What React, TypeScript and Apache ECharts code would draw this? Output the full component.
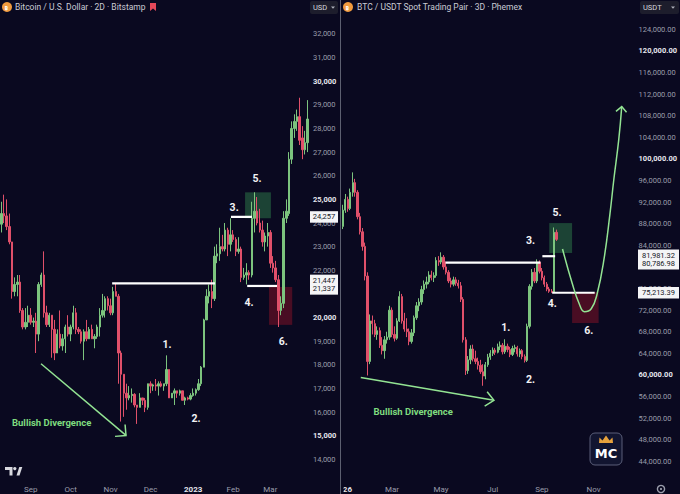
import React, { useEffect, useRef } from "react";
import * as echarts from "echarts";

// ---------- DATA ----------
const leftStartDate = "2022-08-11"; // 2D candles
const leftStepDays = 2;
const rightStartDate = "2026-01-01"; // 3D candles
const rightStepDays = 3;
const rightSlots = 118;

// [open, close, low, high] in thousands of USD — Bitcoin / U.S. Dollar 2D Bitstamp
const leftOHLC: number[][] = [
  [23.95, 24.4, 23.6, 24.9], [24.4, 24.3, 24.0, 25.2], [24.3, 23.85, 23.7, 25.0], [23.85, 23.2, 23.1, 24.4],
  [23.2, 21.1, 20.8, 23.2], [21.1, 21.4, 20.9, 21.7], [21.4, 21.5, 20.9, 21.8], [21.5, 20.3, 20.2, 21.8],
  [20.3, 19.6, 19.5, 20.4], [19.6, 19.8, 19.5, 20.4], [19.8, 20.1, 19.6, 20.5], [20.1, 19.8, 19.7, 20.4],
  [19.8, 19.85, 19.6, 20.0], [19.85, 19.3, 18.5, 20.2], [19.3, 21.4, 19.0, 21.5], [21.4, 21.8, 21.3, 21.9],
  [21.8, 20.2, 20.0, 22.8], [20.2, 19.7, 19.6, 20.5], [19.7, 20.1, 19.6, 20.2], [20.1, 19.5, 18.3, 20.1],
  [19.5, 18.5, 18.2, 19.9], [18.5, 19.3, 18.5, 19.5], [19.3, 18.8, 18.7, 20.3], [18.8, 19.1, 18.6, 19.3],
  [19.1, 19.6, 18.5, 19.7], [19.6, 19.3, 19.2, 20.1], [19.3, 19.6, 19.0, 19.7], [19.6, 20.2, 19.5, 20.5],
  [20.2, 19.5, 19.3, 20.4], [19.5, 19.4, 19.3, 19.6], [19.4, 19.0, 18.9, 19.5], [19.0, 19.4, 18.2, 19.5],
  [19.4, 19.1, 19.0, 19.9], [19.1, 19.5, 19.1, 19.6], [19.5, 19.1, 19.1, 19.7], [19.1, 19.2, 18.7, 19.3],
  [19.2, 19.6, 19.1, 19.7], [19.6, 20.1, 19.2, 20.4], [20.1, 20.3, 20.0, 21.0], [20.3, 20.8, 20.0, 20.9],
  [20.8, 20.5, 20.3, 20.9], [20.5, 20.2, 20.1, 20.8], [20.2, 21.1, 20.1, 21.3], [21.1, 20.9, 20.9, 21.45],
  [20.9, 18.5, 17.2, 21.0], [18.5, 17.6, 15.6, 18.6], [17.6, 16.8, 15.8, 17.6], [16.8, 16.6, 16.1, 17.2],
  [16.6, 16.7, 16.5, 17.1], [16.7, 16.75, 16.4, 17.0], [16.75, 16.3, 16.2, 16.8], [16.3, 16.2, 15.5, 16.3],
  [16.2, 16.6, 16.2, 16.8], [16.6, 16.5, 16.3, 16.6], [16.5, 16.2, 16.0, 16.6], [16.2, 17.2, 16.1, 17.2],
  [17.2, 17.1, 16.8, 17.3], [17.1, 17.15, 16.9, 17.2], [17.15, 17.1, 16.9, 17.4], [17.1, 17.2, 16.7, 17.3],
  [17.2, 17.1, 17.05, 17.3], [17.1, 17.2, 16.9, 17.2], [17.2, 17.8, 17.1, 18.4], [17.8, 16.6, 16.6, 17.8],
  [16.6, 16.8, 16.6, 16.8], [16.8, 16.9, 16.3, 17.0], [16.9, 16.8, 16.6, 16.9], [16.8, 16.9, 16.7, 16.95],
  [16.9, 16.5, 16.5, 16.9], [16.5, 16.6, 16.3, 16.65], [16.6, 16.55, 16.5, 16.65], [16.55, 16.7, 16.5, 16.8],
  [16.7, 16.8, 16.65, 17.0], [16.8, 16.95, 16.7, 17.0], [16.95, 17.2, 16.9, 17.4], [17.2, 17.9, 17.1, 17.95],
  [17.9, 19.9, 17.9, 19.95], [19.9, 20.9, 19.9, 21.2], [20.9, 21.1, 20.6, 21.4], [21.1, 20.8, 20.4, 21.6],
  [20.8, 22.6, 20.7, 23.0], [22.6, 22.7, 22.3, 23.1], [22.7, 23.0, 22.4, 23.8], [23.0, 22.9, 22.8, 23.5],
  [22.9, 23.7, 22.8, 24.0], [23.7, 23.1, 22.6, 23.8], [23.1, 23.5, 22.8, 24.2], [23.5, 23.3, 23.2, 23.7],
  [23.3, 22.8, 22.6, 23.4], [22.8, 22.9, 22.7, 23.4], [22.9, 21.7, 21.5, 23.0], [21.7, 21.8, 21.6, 22.1],
  [21.8, 21.9, 21.4, 22.3], [21.9, 21.8, 21.6, 22.0], [21.8, 24.2, 21.7, 24.9], [24.2, 24.5, 23.6, 25.3],
  [24.5, 24.0, 23.9, 25.1], [24.0, 23.7, 23.6, 24.6], [23.7, 23.2, 23.0, 24.1], [23.2, 23.45, 22.8, 23.6],
  [23.45, 23.6, 23.0, 24.0], [23.6, 22.3, 22.1, 23.7], [22.3, 22.1, 21.9, 22.6], [22.1, 21.6, 21.5, 22.4],
  [21.6, 20.3, 19.6, 21.8], [20.3, 20.6, 20.1, 20.9], [20.6, 24.2, 20.4, 24.5], [24.2, 24.5, 24.0, 25.0],
  [24.4, 26.7, 24.3, 27.0], [26.7, 28.0, 26.5, 28.3], [28.0, 28.3, 27.6, 28.6], [28.3, 28.5, 27.9, 28.8],
  [28.5, 27.5, 27.3, 29.3], [27.6, 27.1, 26.7, 28.1], [27.1, 27.4, 26.9, 27.9], [27.4, 28.4, 27.0, 29.2],
];

// [open, close, low, high] in thousands of USDT — BTC / USDT 3D Phemex
const rightOHLC: number[][] = [
  [87.5, 90.5, 87.0, 91.5], [90.5, 92.5, 90.0, 93.5], [92.5, 90.8, 90.2, 93.0], [90.8, 93.8, 90.5, 94.5],
  [93.8, 95.6, 93.0, 97.5], [95.6, 93.8, 93.0, 96.3], [93.8, 89.3, 88.8, 94.2], [89.3, 86.5, 86.0, 90.0],
  [86.5, 83.8, 83.0, 87.2], [83.8, 78.3, 77.5, 84.5], [78.3, 62.5, 59.9, 79.0], [62.5, 70.0, 62.0, 71.2],
  [70.0, 69.5, 67.5, 71.0], [69.5, 67.5, 67.0, 70.2], [67.5, 68.2, 66.5, 69.0], [68.2, 65.5, 65.0, 68.8],
  [65.5, 64.5, 63.8, 67.0], [64.5, 66.5, 63.0, 67.2], [66.5, 67.0, 65.8, 68.0], [67.0, 72.0, 66.5, 72.8],
  [72.0, 67.5, 67.0, 72.5], [67.5, 66.8, 66.2, 69.0], [66.8, 70.0, 66.5, 70.5], [70.0, 74.5, 69.8, 75.5],
  [74.5, 70.0, 69.5, 75.0], [70.0, 68.5, 68.0, 71.5], [68.5, 68.0, 67.0, 70.5], [68.0, 66.2, 65.5, 68.6],
  [66.2, 67.8, 65.8, 68.5], [67.8, 70.6, 67.2, 71.0], [70.6, 72.8, 70.2, 73.5], [72.8, 73.5, 71.8, 74.2],
  [73.5, 75.8, 73.0, 76.5], [75.8, 76.8, 75.0, 77.5], [76.8, 77.2, 76.0, 78.2], [77.2, 78.5, 76.8, 79.2],
  [78.5, 78.0, 77.5, 79.3], [78.0, 78.4, 77.2, 79.0], [78.4, 81.2, 78.0, 81.8], [81.2, 80.9, 80.2, 82.0],
  [80.9, 81.8, 80.5, 82.7], [81.8, 80.0, 79.5, 82.2], [80.0, 79.0, 78.6, 81.0], [79.0, 77.4, 77.0, 79.4],
  [77.4, 76.8, 76.2, 78.0], [76.8, 77.6, 76.4, 78.2], [77.6, 77.0, 76.5, 78.1], [77.0, 76.5, 76.0, 77.6],
  [76.5, 74.0, 73.5, 77.2], [74.0, 66.5, 66.0, 74.4], [66.5, 60.8, 60.0, 67.0], [60.8, 62.8, 60.2, 63.5],
  [62.8, 64.8, 62.0, 65.5], [64.8, 63.0, 62.5, 65.6], [63.0, 62.5, 62.0, 64.5], [62.5, 61.8, 61.0, 63.2],
  [61.8, 60.6, 60.2, 62.8], [60.6, 59.8, 58.0, 62.0], [59.8, 61.9, 59.2, 62.4], [61.9, 63.3, 61.5, 63.9],
  [63.3, 64.0, 62.8, 64.6], [64.0, 64.6, 63.5, 65.1], [64.6, 64.2, 63.7, 65.0], [64.2, 65.2, 64.0, 65.8],
  [65.2, 65.5, 64.6, 66.2], [65.5, 64.3, 63.8, 65.9], [64.3, 65.3, 63.9, 66.6], [65.3, 64.7, 64.2, 65.8],
  [64.7, 63.8, 63.3, 65.2], [63.8, 64.9, 63.5, 65.4], [64.9, 65.1, 64.2, 65.6], [65.1, 63.9, 63.4, 65.4],
  [63.9, 64.5, 63.3, 64.9], [64.5, 63.4, 62.9, 64.8], [63.4, 62.7, 62.3, 63.8], [62.7, 69.0, 62.4, 69.5],
  [69.0, 76.4, 68.6, 76.8], [76.4, 79.0, 75.8, 79.6], [79.0, 77.4, 77.0, 79.8], [77.4, 80.9, 77.0, 81.4],
  [80.9, 79.2, 78.8, 81.2], [79.2, 78.0, 77.5, 79.8], [78.0, 76.8, 76.3, 78.4], [76.8, 75.9, 75.5, 77.2],
  [75.9, 75.5, 75.2, 76.3], [75.5, 75.3, 75.21, 75.9], [75.3, 86.4, 75.2, 87.3], [86.4, 85.1, 84.8, 86.9],
];

// horizontal levels: [fromIndex, toIndex, price]
const leftLevels: number[][] = [[41.6, 80.2, 21447], [86.2, 94.1, 24257], [92.3, 103.5, 21337]];
const rightLevels: number[][] = [[41.8, 80.4, 80786.98], [81.2, 86.4, 81981.32], [85.2, 102.5, 75213.39]];

// zones: [fromIndex, toIndex, topPrice, bottomPrice]
const leftTargetZone = [91.5, 101.2, 25298, 24202];
const leftStopZone = [100.5, 109.2, 21293, 19691];
const rightTargetZone = [84.0, 93.3, 88111, 82581];
const rightStopZone = [93.3, 104.1, 75327, 69613];

// projected path (index, price) on the right chart
const projectionPath: number[][] = [
  [89.4, 83318], [93.4, 76866], [96.2, 73180], [98.3, 71705], [101.1, 72258], [103.5, 75023],
  [106.3, 81475], [108.7, 89770], [110.3, 96221], [112.3, 103594], [113.5, 109677],
];

// divergence arrows (index, price)
const leftDivergence: number[][] = [[14.9, 18047], [46.8, 15012]];
const rightDivergence: number[][] = [[7.3, 59539], [61.5, 55300]];

// step labels: [text, index, price]
const leftSteps: [string, number, number][] = [
  ["1.", 62.2, 18848], ["2.", 73.1, 15729], ["3.", 87.4, 24666], ["4.", 93.0, 20619], ["5.", 96.0, 25889], ["6.", 105.8, 18975],
];
const rightSteps: [string, number, number][] = [
  ["1.", 66.3, 68756], ["2.", 76.4, 59189], ["3.", 76.4, 84977], ["4.", 85.2, 73180], ["5.", 87.2, 90138], ["6.", 100.1, 68203],
];
const leftDivText: [string, number, number] = ["Bullish Divergence", 4.0, 15560];
const rightDivText: [string, number, number] = ["Bullish Divergence", 12.5, 53272];

const leftBadgeSingle = ["24,257", 24257];
const leftBadgePair = [["21,447", 21447], ["21,337", 21337]];
const rightBadgePair = [["81,981.32", 81981.32], ["80,786.98", 80786.98]];
const rightBadgeSingle = ["75,213.39", 75213.39];

// axis labels fully hidden behind the price badges in the reference
const leftHiddenTicks = [21000];
const rightHiddenTicks = [80000];

// ---------- STYLE ----------
const BG = "#0a0920";
const UP = "#7cc47e";
const DOWN = "#e0506a";
const ARROW = "#93e493";
const FONT = "Roboto, 'Noto Sans', sans-serif";
const MONTHS = ["Jan", "Feb", "Mar", "Apr", "May", "Jun", "Jul", "Aug", "Sep", "Oct", "Nov", "Dec"];

function makeDates(start: string, step: number, n: number): string[] {
  const t0 = new Date(start + "T00:00:00Z").getTime();
  const out: string[] = [];
  for (let i = 0; i < n; i++) out.push(new Date(t0 + i * step * 86400000).toISOString().slice(0, 10));
  return out;
}
const leftDates = makeDates(leftStartDate, leftStepDays, leftOHLC.length);
const rightDates = makeDates(rightStartDate, rightStepDays, rightSlots);

const toCandle = (r: number[]) => [r[0] * 1000, r[1] * 1000, r[2] * 1000, r[3] * 1000];

const monthFormatter = (value: string) => {
  const y = value.slice(0, 4);
  const m = Number(value.slice(5, 7));
  return m === 1 ? `{y|${y}}` : MONTHS[m - 1];
};

const xLabelBase = {
  color: "#9a9dab",
  fontSize: 8,
  fontFamily: FONT,
  margin: 1,
  lineHeight: 10,
  rich: { y: { color: "#e4e5ec", fontWeight: "bold", fontSize: 8, fontFamily: FONT, lineHeight: 10 } },
  formatter: monthFormatter,
};

const hiddenAxisParts = { axisLine: { show: false }, axisTick: { show: false }, splitLine: { show: false } };

function levelSeries(levels: number[][], xi: number, yi: number) {
  return levels.map((l) => ({
    type: "line",
    xAxisIndex: xi,
    yAxisIndex: yi,
    data: [[l[0], l[2]], [l[1], l[2]]],
    symbol: "none",
    silent: true,
    z: 6,
    lineStyle: { color: "#ffffff", width: 2.2 },
  }));
}

function zoneSeries(target: number[], stop: number[], xi: number, yi: number) {
  return {
    type: "line",
    xAxisIndex: xi,
    yAxisIndex: yi,
    data: [[target[0], target[2]]],
    symbol: "none",
    silent: true,
    z: 1,
    lineStyle: { width: 0 },
    markArea: {
      silent: true,
      z: 1,
      data: [
        [{ coord: [target[0], target[2]], itemStyle: { color: "rgba(50,140,80,0.45)" } }, { coord: [target[1], target[3]] }],
        [{ coord: [stop[0], stop[2]], itemStyle: { color: "rgba(150,20,40,0.45)" } }, { coord: [stop[1], stop[3]] }],
      ],
    },
  };
}

function arrowSeries(pts: number[][], xi: number, yi: number, smooth: number | boolean) {
  return {
    type: "line",
    xAxisIndex: xi,
    yAxisIndex: yi,
    data: pts,
    symbol: "none",
    smooth,
    silent: true,
    z: 7,
    lineStyle: { color: ARROW, width: 1.5 },
  };
}

const option: any = {
  animation: false,
  backgroundColor: BG,
  grid: [
    { left: 0, top: 10.3, width: 309, height: 474.4 },
    { left: 341.6, top: 7.6, width: 293.8, height: 477.4 },
  ],
  xAxis: [
    {
      type: "category", gridIndex: 0, data: leftDates, boundaryGap: true, ...hiddenAxisParts,
      axisLabel: {
        ...xLabelBase,
        interval: (index: number, value: string) => index > 0 && value.slice(5, 7) !== leftDates[index - 1].slice(5, 7),
      },
    },
    {
      type: "category", gridIndex: 1, data: rightDates, boundaryGap: true, ...hiddenAxisParts,
      axisLabel: {
        ...xLabelBase,
        interval: (index: number, value: string) => {
          const changed = index === 0 || value.slice(5, 7) !== rightDates[index - 1].slice(5, 7);
          return changed && Number(value.slice(5, 7)) % 2 === 1;
        },
      },
    },
    { type: "value", gridIndex: 0, min: -0.5, max: leftDates.length - 0.5, show: false },
    { type: "value", gridIndex: 1, min: -0.5, max: rightSlots - 0.5, show: false },
  ],
  yAxis: [
    {
      type: "value", gridIndex: 0, position: "right", min: 13000, max: 33000, interval: 1000, ...hiddenAxisParts,
      axisLabel: {
        margin: 4, color: "#9a9dab", fontSize: 7.5, fontFamily: FONT, showMinLabel: false, showMaxLabel: false,
        formatter: (v: number) => {
          if (leftHiddenTicks.includes(v)) return "";
          const s = v.toLocaleString("en-US");
          return v % 5000 === 0 ? `{b|${s}}` : s;
        },
        rich: { b: { color: "#e6e7ee", fontWeight: "bold", fontSize: 7.5, fontFamily: FONT } },
      },
    },
    {
      type: "value", gridIndex: 1, position: "right", min: 40000, max: 128000, interval: 4000, ...hiddenAxisParts,
      axisLabel: {
        margin: 7, color: "#9a9dab", fontSize: 7.5, fontFamily: FONT, showMinLabel: false, showMaxLabel: false,
        formatter: (v: number) => {
          if (rightHiddenTicks.includes(v)) return "";
          const s = v.toLocaleString("en-US", { minimumFractionDigits: 2, maximumFractionDigits: 2 });
          return v % 20000 === 0 ? `{b|${s}}` : s;
        },
        rich: { b: { color: "#e6e7ee", fontWeight: "bold", fontSize: 7.5, fontFamily: FONT } },
      },
    },
  ],
  series: [
    zoneSeries(leftTargetZone, leftStopZone, 2, 0),
    zoneSeries(rightTargetZone, rightStopZone, 3, 1),
    {
      type: "candlestick", xAxisIndex: 0, yAxisIndex: 0, data: leftOHLC.map(toCandle), barWidth: "72%", z: 3,
      itemStyle: { color: UP, color0: DOWN, borderColor: UP, borderColor0: DOWN, borderWidth: 1 },
    },
    {
      type: "candlestick", xAxisIndex: 1, yAxisIndex: 1, data: rightOHLC.map(toCandle), barWidth: "72%", z: 3,
      itemStyle: { color: UP, color0: DOWN, borderColor: UP, borderColor0: DOWN, borderWidth: 1 },
    },
    ...levelSeries(leftLevels, 2, 0),
    ...levelSeries(rightLevels, 3, 1),
    arrowSeries(leftDivergence, 2, 0, false),
    arrowSeries(rightDivergence, 3, 1, false),
    arrowSeries(projectionPath, 3, 1, 0.45),
  ],
};

function buildGraphics(chart: any) {
  const L = (i: number, v: number) => chart.convertToPixel({ xAxisIndex: 2, yAxisIndex: 0 }, [i, v]) as number[];
  const R = (j: number, v: number) => chart.convertToPixel({ xAxisIndex: 3, yAxisIndex: 1 }, [j, v]) as number[];
  const g: any[] = [];
  const text = (x: number, y: number, t: string, st: any = {}, z = 60) =>
    g.push({
      type: "text", x, y, z, silent: true,
      style: { text: t, fill: "#c9cbd4", fontSize: 8, fontFamily: FONT, align: "left", verticalAlign: "middle", ...st },
    });
  const chevron = (tip: number[], from: number[], len: number, deg: number) => {
    const a = Math.atan2(from[1] - tip[1], from[0] - tip[0]);
    const r = (deg * Math.PI) / 180;
    g.push({
      type: "polyline", z: 55, silent: true,
      shape: { points: [[tip[0] + len * Math.cos(a + r), tip[1] + len * Math.sin(a + r)], tip, [tip[0] + len * Math.cos(a - r), tip[1] + len * Math.sin(a - r)]] },
      style: { stroke: ARROW, lineWidth: 1.5, fill: null },
    });
  };

  // divider and cover for the clipped left edge of the right panel
  g.push({ type: "rect", z: 90, silent: true, shape: { x: 326, y: 484, width: 17.5, height: 10 }, style: { fill: BG } });
  g.push({ type: "line", z: 91, silent: true, shape: { x1: 340.5, y1: 0, x2: 340.5, y2: 494 }, style: { stroke: "#5c5f70", lineWidth: 1 } });

  // titles
  g.push({ type: "circle", z: 60, silent: true, shape: { cx: 7, cy: 7, r: 5 }, style: { fill: "#f09a3e" } });
  text(4.5, 7.5, "₿", { fill: "#ffffff", fontSize: 6, fontWeight: "bold" });
  text(15, 7, "Bitcoin / U.S. Dollar · 2D · Bitstamp", { fontSize: 8.5 });
  g.push({ type: "polygon", z: 60, silent: true, shape: { points: [[150, 3], [156, 3], [156, 11], [153, 8.5], [150, 11]] }, style: { fill: "#e5485a" } });
  g.push({ type: "circle", z: 60, silent: true, shape: { cx: 348, cy: 7, r: 5 }, style: { fill: "#f09a3e" } });
  text(345.5, 7.5, "₿", { fill: "#ffffff", fontSize: 6, fontWeight: "bold" });
  text(357, 7, "BTC / USDT Spot Trading Pair · 3D · Phemex", { fontSize: 8.5 });

  // currency boxes
  g.push({ type: "rect", z: 60, silent: true, shape: { x: 310, y: 1, width: 28, height: 13, r: 2 }, style: { fill: "#1d1d2c" } });
  text(313, 7.5, "USD", { fontSize: 7.5, fill: "#d6d7de" }, 61);
  g.push({ type: "polygon", z: 61, silent: true, shape: { points: [[331, 6.5], [335, 6.5], [333, 8.8]] }, style: { fill: "#b0b2bc" } });
  g.push({ type: "rect", z: 60, silent: true, shape: { x: 640, y: 1, width: 39, height: 13, r: 2 }, style: { fill: "#1d1d2c" } });
  text(643, 7.5, "USDT", { fontSize: 7.5, fill: "#d6d7de" }, 61);
  g.push({ type: "polygon", z: 61, silent: true, shape: { points: [[671, 6.5], [675, 6.5], [673, 8.8]] }, style: { fill: "#b0b2bc" } });

  // price badges
  const badge = (x: number, w: number, items: any[], yFn: (v: number) => number) => {
    const ys = items.map((it) => yFn(it[1]));
    const mid = (Math.min(...ys) + Math.max(...ys)) / 2;
    const n = items.length;
    const h = n * 8.5 + 3;
    g.push({ type: "rect", z: 80, silent: true, shape: { x, y: mid - h / 2, width: w, height: h }, style: { fill: "#f4f4f6" } });
    items.forEach((it, k) => {
      text(x + w / 2, mid + (k - (n - 1) / 2) * 8.5, it[0], { fill: "#15171f", fontSize: 7.5, align: "center" }, 82);
    });
  };
  badge(310, 28, [leftBadgeSingle], (v) => L(0, v)[1]);
  badge(310, 28, leftBadgePair, (v) => L(0, v)[1]);
  badge(638, 41, rightBadgePair, (v) => R(0, v)[1]);
  badge(638, 41, [rightBadgeSingle], (v) => R(0, v)[1]);

  // step numbers
  leftSteps.forEach(([t, i, v]) => { const p = L(i, v); text(p[0], p[1], t, { fill: "#f2f2f4", fontSize: 10.5, fontWeight: "bold", align: "center" }); });
  rightSteps.forEach(([t, j, v]) => { const p = R(j, v); text(p[0], p[1], t, { fill: "#f2f2f4", fontSize: 10.5, fontWeight: "bold", align: "center" }); });

  // divergence labels and arrowheads
  const ld = L(leftDivText[1], leftDivText[2]);
  text(ld[0], ld[1], leftDivText[0], { fill: "#7fdc7f", fontSize: 9.5, fontWeight: "bold" });
  const rd = R(rightDivText[1], rightDivText[2]);
  text(rd[0], rd[1], rightDivText[0], { fill: "#7fdc7f", fontSize: 9.5, fontWeight: "bold" });
  chevron(L(leftDivergence[1][0], leftDivergence[1][1]), L(leftDivergence[0][0], leftDivergence[0][1]), 11, 45);
  chevron(R(rightDivergence[1][0], rightDivergence[1][1]), R(rightDivergence[0][0], rightDivergence[0][1]), 11, 42);
  const pn = projectionPath.length;
  chevron(R(projectionPath[pn - 1][0], projectionPath[pn - 1][1]), R(projectionPath[pn - 2][0], projectionPath[pn - 2][1]), 7.5, 45);

  // TradingView mark
  g.push({ type: "polygon", z: 60, silent: true, shape: { points: [[5, 467], [12.5, 467], [12.5, 475.5], [9.5, 475.5], [9.5, 470], [5, 470]] }, style: { fill: "#d8d9df" } });
  g.push({ type: "circle", z: 60, silent: true, shape: { cx: 14.8, cy: 468.6, r: 1.7 }, style: { fill: "#d8d9df" } });
  g.push({ type: "polygon", z: 60, silent: true, shape: { points: [[16.5, 475.5], [19.3, 467], [22.3, 467], [19.5, 475.5]] }, style: { fill: "#d8d9df" } });

  // MC logo
  g.push({ type: "rect", z: 60, silent: true, shape: { x: 590, y: 433, width: 32, height: 32, r: 5 }, style: { fill: "#121530", stroke: "#5a5e78", lineWidth: 1 } });
  g.push({ type: "polygon", z: 61, silent: true, shape: { points: [[599, 443], [599.5, 437.5], [602.5, 440.5], [606, 435.5], [609.5, 440.5], [612.5, 437.5], [613, 443]] }, style: { fill: "#e7a23c" } });
  text(606, 453.5, "MC", { fill: "#ffffff", fontSize: 13, fontWeight: "bold", align: "center", fontFamily: "'DejaVu Sans', sans-serif" }, 62);

  // settings gear
  g.push({ type: "circle", z: 60, silent: true, shape: { cx: 661, cy: 489, r: 3.6 }, style: { fill: null, stroke: "#9a9dab", lineWidth: 1.4 } });
  g.push({ type: "circle", z: 60, silent: true, shape: { cx: 661, cy: 489, r: 1.1 }, style: { fill: "#9a9dab" } });

  return g;
}

export default function App() {
  const ref = useRef<HTMLDivElement>(null);
  useEffect(() => {
    if (!ref.current) return;
    const chart = echarts.init(ref.current, undefined, { renderer: "svg", width: 680, height: 494 });
    chart.setOption(option);
    chart.setOption({ graphic: buildGraphics(chart) });
    return () => chart.dispose();
  }, []);
  return <div ref={ref} style={{ position: "fixed", left: 0, top: 0, width: 680, height: 494 }} />;
}
